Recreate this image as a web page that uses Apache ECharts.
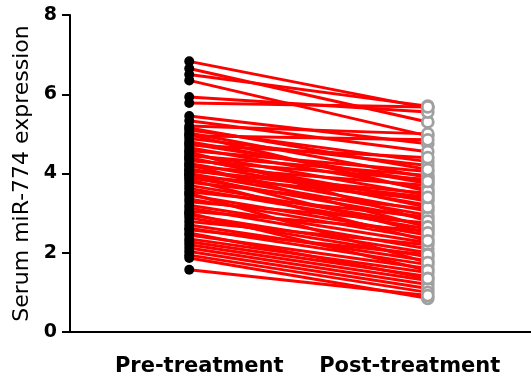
<!DOCTYPE html>
<html><head><meta charset="utf-8">
<script src="https://cdn.jsdelivr.net/npm/echarts@6/dist/echarts.min.js"></script>
<style>html,body{margin:0;padding:0;background:#fff;overflow:hidden;width:531px;height:379px}#c{width:547px;height:379px}</style>
</head><body><div id="c"></div>
<script>
const categories = ['Pre-treatment', 'Post-treatment'];
const yTicks = [0, 2, 4, 6, 8];
const preValues = [6.83, 6.65, 6.50, 6.35, 5.93, 5.78, 5.45, 5.33, 5.20, 5.10, 5.02, 4.95, 4.88, 4.80, 4.72, 4.65, 4.58, 4.50, 4.45, 4.38, 4.32, 4.25, 4.18, 4.12, 4.06, 4.00, 3.95, 3.90, 3.78, 3.70, 3.62, 3.54, 3.45, 3.36, 3.29, 3.20, 3.13, 3.05, 2.95, 2.88, 2.79, 2.70, 2.62, 2.58, 2.45, 2.35, 2.28, 2.20, 2.12, 2.03, 1.94, 1.87, 1.57,
  5.15, 4.98, 4.75, 4.55, 4.40, 4.22, 4.08, 3.98, 3.85, 3.50, 3.00, 2.50];
const postValues = [5.65, 5.30, 5.70, 4.95, 5.55, 5.68, 4.75, 4.55, 5.00, 4.30, 3.90, 4.85, 4.20, 3.75, 4.40, 3.60, 4.05, 3.45, 3.95, 3.30, 3.85, 3.20, 3.70, 3.05, 3.50, 2.95, 3.35, 2.85, 3.10, 2.70, 2.60, 2.90, 2.45, 2.35, 2.75, 2.25, 2.10, 2.55, 2.00, 1.90, 2.20, 1.80, 1.70, 1.95, 1.60, 1.50, 1.40, 1.30, 1.20, 1.10, 1.00, 0.85, 0.92,
  4.10, 3.55, 3.80, 2.80, 3.15, 2.65, 3.40, 2.50, 2.30, 1.75, 1.55, 1.35];
const labelShift = {'Pre-treatment': 'a', 'Post-treatment': 'b'};

const chart = echarts.init(document.getElementById('c'), null, {renderer: 'canvas'});
const series = [];
preValues.forEach((p, i) => {
  series.push({
    type: 'line', data: [p, postValues[i]], showSymbol: false, silent: true,
    lineStyle: {color: '#ff0000', width: 3}, z: 2, animation: false
  });
});
series.push({
  type: 'scatter', data: preValues.map(v => [0, v]), symbol: 'circle', symbolSize: 10,
  itemStyle: {color: '#000', opacity: 1}, z: 5, animation: false
});
series.push({
  type: 'scatter', data: postValues.map(v => [1, v]), symbol: 'circle', symbolSize: 11,
  itemStyle: {color: '#fff', borderColor: '#a0a0a0', borderWidth: 2.8, opacity: 1}, z: 5, animation: false
});
const labelFont = {fontFamily: 'DejaVu Sans', fontWeight: 'bold', fontSize: 21, color: '#000'};
chart.setOption({
  animation: false,
  grid: {left: 70, top: 15, bottom: 47, right: 0, outerBoundsMode: 'none'},
  xAxis: {
    type: 'category', data: categories, boundaryGap: true,
    axisLine: {lineStyle: {color: '#000', width: 2}},
    axisTick: {alignWithLabel: true, length: 8, lineStyle: {color: '#000', width: 2}},
    axisLabel: {interval: 0, margin: 24,
      formatter: v => '{' + labelShift[v] + '|' + v + '}',
      rich: {
        a: Object.assign({padding: [0, 0, 0, 20]}, labelFont),
        b: Object.assign({padding: [0, 36, 0, 0]}, labelFont)
      }}
  },
  yAxis: {
    type: 'value', min: yTicks[0], max: yTicks[yTicks.length - 1], interval: 2,
    name: 'Serum miR-774 expression', nameLocation: 'middle', nameGap: 36,
    nameTextStyle: {fontFamily: 'DejaVu Sans', fontSize: 22, color: '#000'},
    axisLine: {show: true, lineStyle: {color: '#000', width: 2}},
    axisTick: {show: true, length: 8, lineStyle: {color: '#000', width: 2}},
    axisLabel: {show: true, margin: 13, fontFamily: 'DejaVu Sans', fontWeight: 'bold', fontSize: 19, color: '#000'},
    splitLine: {show: false}
  },
  series: series
});
</script></body></html>
